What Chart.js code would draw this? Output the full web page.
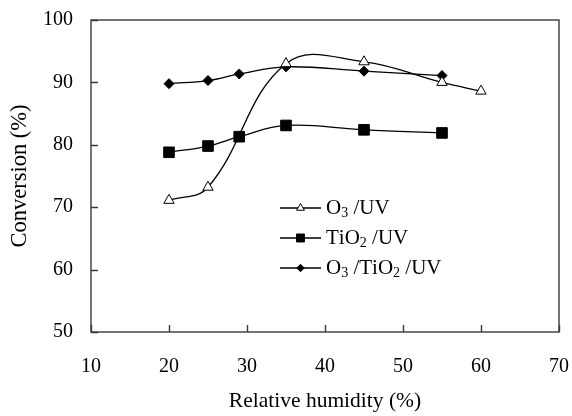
<!DOCTYPE html>
<html>
<head>
<meta charset="utf-8">
<script src="https://cdn.jsdelivr.net/npm/chart.js"></script>
<style>
  html, body { margin: 0; padding: 0; background: #fff; }
</style>
</head>
<body>
<canvas id="myChart" width="572" height="416"></canvas>
<script>
// relative humidity (%) and conversion (%)
const rhO3 = [20, 25, 35, 45, 55, 60];
const o3uv = [71.1, 73.2, 93.0, 93.3, 90.0, 88.6];

const rhTiO2 = [20, 25, 29, 35, 45, 55];
const tio2uv = [78.8, 79.8, 81.3, 83.1, 82.4, 81.9];
const o3tio2uv = [89.8, 90.3, 91.35, 92.5, 91.8, 91.1];

const seriesLabels = ['O₃ /UV', 'TiO₂ /UV', 'O₃ /TiO₂ /UV'];
const xTicks = [10, 20, 30, 40, 50, 60, 70];
const yTicks = [50, 60, 70, 80, 90, 100];

const xTitle = 'Relative humidity (%)';
const yTitle = 'Conversion (%)';

const FONT = '"Liberation Serif", "Times New Roman", serif';
const AXIS = '#3a3a3a';

function pts(xs, ys) {
  return xs.map((x, i) => ({ x: x, y: ys[i] }));
}

function marker(ctx, style, x, y, r) {
  ctx.beginPath();
  if (style === 'triangle') {
    ctx.moveTo(x, y - r);
    ctx.lineTo(x + r * 0.866, y + r / 2);
    ctx.lineTo(x - r * 0.866, y + r / 2);
    ctx.closePath();
  } else if (style === 'rect') {
    const s = r * Math.SQRT1_2;
    ctx.rect(x - s, y - s, 2 * s, 2 * s);
  } else {
    ctx.moveTo(x - r, y);
    ctx.lineTo(x, y - r);
    ctx.lineTo(x + r, y);
    ctx.lineTo(x, y + r);
    ctx.closePath();
  }
  ctx.fill();
  ctx.stroke();
}

// text with unicode subscript digits drawn as small lowered digits
function richText(ctx, text, x, y, size) {
  const subs = '₀₁₂₃₄₅₆₇₈₉';
  for (const ch of text) {
    const k = subs.indexOf(ch);
    if (k >= 0) {
      ctx.font = Math.round(size * 0.68) + 'px ' + FONT;
      ctx.fillText(String(k), x, y + size * 0.26);
      x += ctx.measureText(String(k)).width;
    } else {
      ctx.font = size + 'px ' + FONT;
      ctx.fillText(ch, x, y);
      x += ctx.measureText(ch).width;
    }
  }
}

// box around plot + inward tick marks
const framePlugin = {
  id: 'frame',
  beforeDatasetsDraw(chart) {
    const { ctx, chartArea: a, scales } = chart;
    ctx.save();
    ctx.strokeStyle = AXIS;
    ctx.lineWidth = 1.4;
    ctx.strokeRect(a.left, a.top, a.right - a.left, a.bottom - a.top);
    ctx.beginPath();
    yTicks.forEach(v => {
      const py = Math.round(scales.y.getPixelForValue(v)) + 0.5;
      ctx.moveTo(a.left, py);
      ctx.lineTo(a.left + 7, py);
    });
    xTicks.forEach(v => {
      const px = Math.round(scales.x.getPixelForValue(v)) + 0.5;
      ctx.moveTo(px, a.bottom);
      ctx.lineTo(px, a.bottom - 7);
    });
    ctx.stroke();
    ctx.restore();
  }
};

// legend inside the plot area
const legendPlugin = {
  id: 'inLegend',
  afterDatasetsDraw(chart) {
    const { ctx, chartArea: a } = chart;
    ctx.save();
    ctx.textBaseline = 'middle';
    ctx.textAlign = 'left';
    chart.data.datasets.forEach((ds, i) => {
      const x0 = a.left + 189;
      const y0 = a.top + 188 + i * 30;
      ctx.strokeStyle = '#000';
      ctx.lineWidth = 1.3;
      ctx.beginPath();
      ctx.moveTo(x0, y0);
      ctx.lineTo(x0 + 41, y0);
      ctx.stroke();
      ctx.fillStyle = ds.pointBackgroundColor;
      ctx.strokeStyle = '#000';
      ctx.lineWidth = 1;
      marker(ctx, ds.pointStyle, x0 + 20.5, y0, ds.pointRadius * 0.75);
      ctx.fillStyle = '#000';
      richText(ctx, ds.label, x0 + 46, y0, 21);
    });
    ctx.restore();
  }
};

function noOverflow(s) {
  s.paddingTop = 0;
  s.paddingBottom = 0;
  s.paddingLeft = 0;
  s.paddingRight = 0;
}

const ctx = document.getElementById('myChart').getContext('2d');
const myChart = new Chart(ctx, {
  type: 'line',
  data: {
    datasets: [
      {
        label: seriesLabels[0],
        data: pts(rhO3, o3uv),
        borderColor: '#000',
        borderWidth: 1.3,
        pointStyle: 'triangle',
        pointRadius: 6,
        pointBackgroundColor: '#fff',
        pointBorderColor: '#000',
        pointBorderWidth: 1,
        tension: 0.4
      },
      {
        label: seriesLabels[1],
        data: pts(rhTiO2, tio2uv),
        borderColor: '#000',
        borderWidth: 1.3,
        pointStyle: 'rect',
        pointRadius: 7.5,
        pointBackgroundColor: '#000',
        pointBorderColor: '#000',
        pointBorderWidth: 1,
        tension: 0.4
      },
      {
        label: seriesLabels[2],
        data: pts(rhTiO2, o3tio2uv),
        borderColor: '#000',
        borderWidth: 1.3,
        pointStyle: 'rectRot',
        pointRadius: 5,
        pointBackgroundColor: '#000',
        pointBorderColor: '#000',
        pointBorderWidth: 1,
        tension: 0.4
      }
    ]
  },
  options: {
    responsive: false,
    animation: false,
    events: [],
    layout: { padding: { left: 0, top: 20, right: 13, bottom: 0 } },
    plugins: {
      legend: { display: false },
      tooltip: { enabled: false }
    },
    scales: {
      x: {
        type: 'linear',
        min: 10,
        max: 70,
        afterFit: s => { s.height = 84; noOverflow(s); },
        afterBuildTicks: s => { s.ticks = xTicks.map(v => ({ value: v })); },
        grid: { display: false },
        border: { display: false },
        ticks: { color: '#000', padding: 15, font: { family: FONT, size: 20 } },
        title: {
          display: true,
          text: xTitle,
          color: '#000',
          font: { family: FONT, size: 21.5 },
          padding: { top: 0, bottom: 2 }
        }
      },
      y: {
        min: 50,
        max: 100,
        afterFit: s => { s.width = 91; noOverflow(s); },
        afterBuildTicks: s => { s.ticks = yTicks.map(v => ({ value: v })); },
        grid: { display: false },
        border: { display: false },
        ticks: { color: '#000', padding: 10, font: { family: FONT, size: 20 } },
        title: {
          display: true,
          text: yTitle,
          color: '#000',
          font: { family: FONT, size: 22.5 },
          padding: { top: 7, bottom: 0 }
        }
      }
    }
  },
  plugins: [framePlugin, legendPlugin]
});
</script>
</body>
</html>
